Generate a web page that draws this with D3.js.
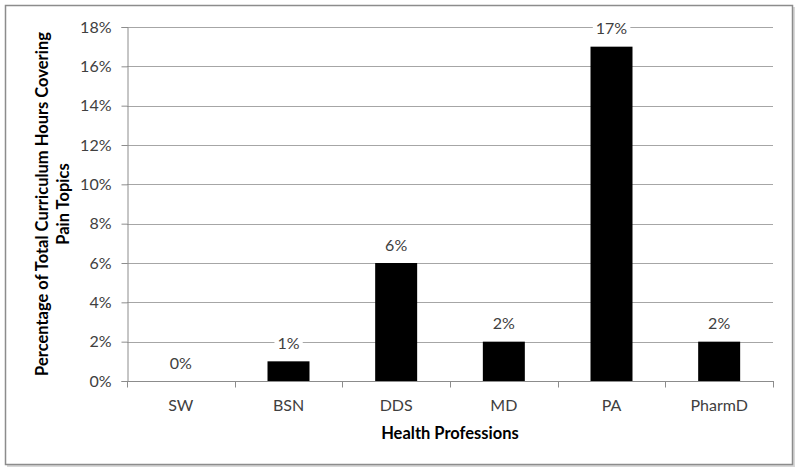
<!DOCTYPE html>
<html><head><meta charset="utf-8">
<script src="https://cdn.jsdelivr.net/npm/d3@7"></script>
<style>body{margin:0;background:#fff}svg{display:block}</style>
</head><body>
<svg id="c" width="800" height="471"></svg>
<script>
const categories = ["SW","BSN","DDS","MD","PA","PharmD"];
const values = [0, 1, 6, 2, 17, 2];
const valueLabels = ["0%","1%","6%","2%","17%","2%"];
const yTicks = [0,2,4,6,8,10,12,14,16,18];

const svg = d3.select("#c");
const font = "Lato, 'Open Sans', sans-serif";
const textColor = "#404040";

// outer frame with slight shadow
svg.append("rect").attr("x",7).attr("y",7).attr("width",788).attr("height",460).attr("fill","#d8d8d8");
svg.append("rect").attr("x",5.5).attr("y",5.5).attr("width",787).attr("height",459)
  .attr("fill","#fff").attr("stroke","#8c8c8c").attr("stroke-width",1.5);

const L=127, R=773, T=27, B=381;
const x = d3.scaleBand().domain(categories).range([L,R]).paddingInner(0.61).paddingOuter(0.305);
const y = d3.scaleLinear().domain([0,18]).range([B,T]);

// gridlines
svg.append("g").selectAll("line").data(yTicks.filter(d=>d>0)).join("line")
  .attr("x1",L).attr("x2",R).attr("y1",d=>Math.round(y(d))+0.5).attr("y2",d=>Math.round(y(d))+0.5)
  .attr("stroke","#a6a6a6").attr("stroke-width",1);

// bars
svg.append("g").selectAll("rect").data(values).join("rect")
  .attr("x",(d,i)=>x(categories[i])).attr("width",x.bandwidth())
  .attr("y",d=>y(d)).attr("height",d=>B-y(d)).attr("fill","#000");

// y axis
const yAxis = d3.axisLeft(y).tickValues(yTicks).tickFormat(d=>d+"%").tickSize(6).tickPadding(10);
const gy = svg.append("g").attr("transform",`translate(${L+0.5},0)`).call(yAxis);
gy.select(".domain").attr("stroke","#8c8c8c");
gy.selectAll(".tick line").attr("stroke","#8c8c8c");
gy.selectAll(".tick text").attr("font-family",font).attr("font-size",16).attr("fill",textColor);

// x axis
const xEdge = d3.scaleLinear().domain([0,categories.length]).range([L,R]);
const gx = svg.append("g").attr("transform",`translate(0,${B+0.5})`);
gx.append("line").attr("x1",L).attr("x2",R+1).attr("stroke","#8c8c8c");
gx.selectAll("line.t").data(d3.range(categories.length+1)).join("line").attr("class","t")
  .attr("x1",d=>Math.round(xEdge(d))+0.5).attr("x2",d=>Math.round(xEdge(d))+0.5)
  .attr("y1",0).attr("y2",6).attr("stroke","#8c8c8c");
gx.selectAll("text").data(categories).join("text")
  .attr("x",d=>x(d)+x.bandwidth()/2).attr("y",29)
  .attr("text-anchor","middle").attr("font-family",font).attr("font-size",16).attr("fill",textColor)
  .text(d=>d);

// value labels with white background
const lg = svg.append("g").selectAll("g").data(values).join("g")
  .attr("transform",(d,i)=>`translate(${x(categories[i])+x.bandwidth()/2},${y(d)-18})`);
lg.append("rect").attr("x",-14).attr("y",-10).attr("width",28).attr("height",19).attr("fill","#fff");
lg.append("text").attr("text-anchor","middle").attr("dy","0.35em")
  .attr("font-family",font).attr("font-size",16).attr("fill",textColor)
  .text((d,i)=>valueLabels[i]);
lg.select("rect").each(function(d,i){
  const t=this.parentNode.querySelector("text").getBBox();
  d3.select(this).attr("x",t.x-3).attr("width",t.width+6);
});

// axis titles
svg.append("text").attr("x",(L+R)/2).attr("y",439).attr("text-anchor","middle")
  .attr("font-family",font).attr("font-weight","bold").attr("font-size",16.5).attr("fill","#000")
  .text("Health Professions");
const yt = svg.append("text").attr("transform",`translate(42,${(T+B)/2}) rotate(-90)`)
  .attr("text-anchor","middle").attr("font-family",font).attr("font-weight","bold").attr("font-size",16.5).attr("fill","#000");
yt.append("tspan").attr("x",0).attr("dy","0.35em").text("Percentage of Total Curriculum Hours Covering");
yt.append("tspan").attr("x",0).attr("dy",21).text("Pain Topics");
</script>
</body></html>
